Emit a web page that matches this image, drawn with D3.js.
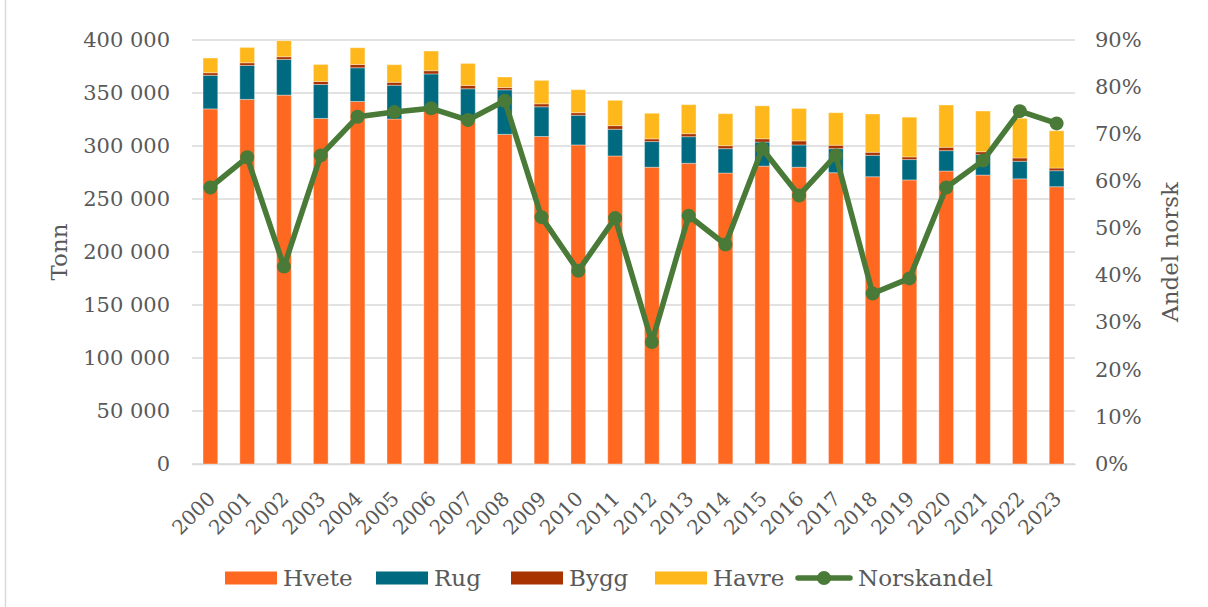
<!DOCTYPE html>
<html>
<head>
<meta charset="utf-8">
<script src="https://cdn.jsdelivr.net/npm/d3@7"></script>
<style>
  body { margin: 0; background: #fff; }
  svg text { font-family: "DejaVu Serif", "Liberation Serif", serif; fill: #595959; font-variant-numeric: oldstyle-nums; }
</style>
</head>
<body>
<svg id="chart"></svg>
<script>
// data
const years = ['2000','2001','2002','2003','2004','2005','2006','2007','2008','2009','2010','2011',
  '2012','2013','2014','2015','2016','2017','2018','2019','2020','2021','2022','2023'];
const hvete = [335000, 344000, 348000, 326000, 342000, 325500, 334000, 323000, 311000, 309000, 301000, 290600,
  280000, 283700, 274500, 281000, 280000, 274800, 271000, 268000, 276400, 272600, 269000, 261600];
const rug = [31700, 32000, 33700, 32000, 31800, 31800, 34000, 31000, 42000, 28000, 28000, 25200,
  24200, 25100, 23000, 22700, 21000, 22700, 20200, 19200, 19200, 19200, 16600, 15100];
const bygg = [2400, 2500, 2500, 2900, 3100, 2800, 3000, 3100, 2200, 2800, 2400, 3400,
  2500, 2800, 2800, 3100, 3800, 3200, 2900, 2500, 3200, 2800, 3100, 2500];
const havre = [13900, 14500, 15100, 16000, 15800, 16600, 18600, 20800, 9900, 22100, 21700, 23900,
  24200, 27400, 30200, 31100, 30600, 30700, 36100, 37500, 39900, 38400, 37400, 35200];
const norskandel = [0.587, 0.651, 0.419, 0.655, 0.737, 0.747, 0.755, 0.730, 0.771, 0.524, 0.410, 0.522,
  0.259, 0.527, 0.466, 0.669, 0.570, 0.655, 0.362, 0.394, 0.587, 0.644, 0.749, 0.723];
const leftTicks = [0, 50000, 100000, 150000, 200000, 250000, 300000, 350000, 400000];
const rightTicks = [0, 0.1, 0.2, 0.3, 0.4, 0.5, 0.6, 0.7, 0.8, 0.9];

const seriesKeys = ['Hvete', 'Rug', 'Bygg', 'Havre'];
const colors = { Hvete: '#FF6820', Rug: '#006A80', Bygg: '#A83300', Havre: '#FFB81C' };
const lineColor = '#4A7A38';

const width = 1208, height = 607;
const margin = { top: 40, right: 133, bottom: 143, left: 192 };
const innerW = width - margin.left - margin.right;
const innerH = height - margin.top - margin.bottom;

const svg = d3.select('#chart').attr('width', width).attr('height', height);

// chart border
svg.append('rect')
  .attr('x', 5.5).attr('y', -2).attr('width', width - 3).attr('height', height + 4)
  .attr('fill', 'none').attr('stroke', '#d9d9d9').attr('stroke-width', 1.5);

const g = svg.append('g').attr('transform', `translate(${margin.left},${margin.top})`);

const x = d3.scaleBand().domain(years).range([0, innerW]).paddingInner(0.6).paddingOuter(0.3);
const y = d3.scaleLinear().domain([0, 400000]).range([innerH, 0]);
const y2 = d3.scaleLinear().domain([0, 0.9]).range([innerH, 0]);

// gridlines
g.append('g')
  .selectAll('line')
  .data(leftTicks)
  .enter()
  .append('line')
  .attr('x1', 0).attr('x2', innerW)
  .attr('y1', d => y(d)).attr('y2', d => y(d))
  .attr('stroke', '#d9d9d9').attr('stroke-width', 1.5);

// left axis
const fmt = d => d3.format(',')(d).replace(/,/g, ' ');
const yAxis = g.append('g')
  .call(d3.axisLeft(y).tickValues(leftTicks).tickFormat(fmt).tickSize(0).tickPadding(22));
yAxis.select('.domain').remove();
yAxis.selectAll('text').style('font-size', '21px').attr('dy', '0.3em');

// right axis
const y2Axis = g.append('g')
  .attr('transform', `translate(${innerW},0)`)
  .call(d3.axisRight(y2).tickValues(rightTicks).tickFormat(d3.format('.0%')).tickSize(0).tickPadding(20));
y2Axis.select('.domain').remove();
y2Axis.selectAll('text').style('font-size', '21px').attr('dy', '0.3em');

// x axis
const xAxis = g.append('g')
  .attr('transform', `translate(0,${innerH})`)
  .call(d3.axisBottom(x).tickSize(0));
xAxis.select('.domain').attr('stroke', '#d9d9d9').attr('stroke-width', 1.5);
xAxis.selectAll('text')
  .style('font-size', '20px')
  .style('text-anchor', 'end')
  .attr('x', 0).attr('y', 0).attr('dy', 0)
  .attr('transform', 'translate(6,36) rotate(-45)');

// stacked bars
const rows = years.map((yr, i) => ({ year: yr, Hvete: hvete[i], Rug: rug[i], Bygg: bygg[i], Havre: havre[i] }));
const stacked = d3.stack().keys(seriesKeys)(rows);

g.append('g')
  .selectAll('g')
  .data(stacked)
  .enter()
  .append('g')
  .attr('fill', d => colors[d.key])
  .selectAll('rect')
  .data(d => d)
  .enter()
  .append('rect')
  .attr('x', d => x(d.data.year))
  .attr('y', d => y(d[1]))
  .attr('width', x.bandwidth())
  .attr('height', d => y(d[0]) - y(d[1]))
  .attr('stroke', 'rgba(255,255,255,0.35)')
  .attr('stroke-width', 1);

// norskandel line
const line = d3.line()
  .x((d, i) => x(years[i]) + x.bandwidth() / 2)
  .y(d => y2(d));

g.append('path')
  .datum(norskandel)
  .attr('d', line)
  .attr('fill', 'none')
  .attr('stroke', lineColor)
  .attr('stroke-width', 5.5)
  .attr('stroke-linejoin', 'round');

g.append('g')
  .selectAll('circle')
  .data(norskandel)
  .enter()
  .append('circle')
  .attr('cx', (d, i) => x(years[i]) + x.bandwidth() / 2)
  .attr('cy', d => y2(d))
  .attr('r', 7)
  .attr('fill', lineColor);

// axis titles
svg.append('text')
  .attr('transform', `translate(67,${margin.top + innerH / 2}) rotate(-90)`)
  .attr('text-anchor', 'middle')
  .style('font-size', '23px')
  .text('Tonn');

svg.append('text')
  .attr('transform', `translate(1178,${margin.top + innerH / 2}) rotate(-90)`)
  .attr('text-anchor', 'middle')
  .style('font-size', '23px')
  .text('Andel norsk');

// legend
const legendItems = [
  { key: 'Hvete', x: 225 },
  { key: 'Rug', x: 376 },
  { key: 'Bygg', x: 511 },
  { key: 'Havre', x: 655 },
  { key: 'Norskandel', x: 798 }
];
const legend = svg.append('g').attr('transform', 'translate(0,578)');
legendItems.forEach(item => {
  const li = legend.append('g').attr('transform', `translate(${item.x},0)`);
  if (item.key === 'Norskandel') {
    li.append('line').attr('x1', 0).attr('x2', 52).attr('y1', 0).attr('y2', 0)
      .attr('stroke', lineColor).attr('stroke-width', 5.5).attr('stroke-linecap', 'round');
    li.append('circle').attr('cx', 26).attr('cy', 0).attr('r', 7).attr('fill', lineColor);
  } else {
    li.append('rect').attr('x', 0).attr('y', -6.5).attr('width', 52).attr('height', 13)
      .attr('fill', colors[item.key]);
  }
  li.append('text')
    .attr('x', item.key === 'Norskandel' ? 60 : 58)
    .attr('y', 0)
    .attr('dy', '0.35em')
    .style('font-size', '23px')
    .text(item.key);
});
</script>
</body>
</html>
